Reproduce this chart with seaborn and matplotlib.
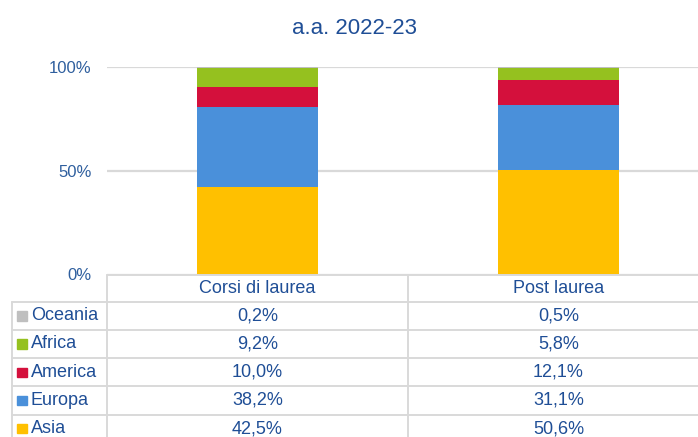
import matplotlib
matplotlib.use("Agg")
import matplotlib.pyplot as plt
import matplotlib.transforms as mtransforms
from matplotlib.patches import Rectangle
import numpy as np
import pandas as pd
import seaborn as sns

# data (percent shares)
categories = ["Corsi di laurea", "Post laurea"]
regions = ["Asia", "Europa", "America", "Africa", "Oceania"]
asia = [42.5, 50.6]
europa = [38.2, 31.1]
america = [10.0, 12.1]
africa = [9.2, 5.8]
oceania = [0.2, 0.5]
yticks = [0, 50, 100]
ytick_labels = ["0%", "50%", "100%"]
title = "a.a. 2022-23"

colors = {"Asia": "#FFC000", "Europa": "#4A90DA", "America": "#D4103C",
          "Africa": "#95C11F", "Oceania": "#BFBFBF"}
text_col = "#1F4E96"
tick_col = "#2F5F9E"
line_col = "#D9D9D9"

sns.set_style("white")
plt.rcParams["font.family"] = ["Liberation Sans", "DejaVu Sans"]

df = pd.DataFrame({"Asia": asia, "Europa": europa, "America": america,
                   "Africa": africa, "Oceania": oceania}, index=categories)
# 100% stacked: normalise each column total
share = df.div(df.sum(axis=1), axis=0) * 100
cum = share.cumsum(axis=1)

W, H = 698, 437
fig = plt.figure(figsize=(W / 100, H / 100), dpi=100)
ax_left, ax_right, ax_top, ax_bot = 107, 709, 67.3, 274.5
ax = fig.add_axes([ax_left / W, 1 - ax_bot / H, (ax_right - ax_left) / W, (ax_bot - ax_top) / H])

ax.set_axisbelow(True)
for reg in reversed(regions):
    sns.barplot(x=categories, y=cum[reg].values, color=colors[reg], width=0.4,
                saturation=1, linewidth=0, ax=ax)

ax.set_xlim(-0.5, len(categories) - 0.5)
ax.set_ylim(0, 100)
ax.set_yticks(yticks)
ax.set_yticklabels(ytick_labels, color=tick_col, fontsize=12)
ax.tick_params(axis="y", length=0, pad=11)
ax.tick_params(axis="x", bottom=False, labelbottom=False)
ax.grid(axis="y", color=line_col, linewidth=1.6)
ax.set_xlabel("")
ax.set_ylabel("")
for s in ax.spines.values():
    s.set_visible(False)

fig.text(354 / W, 1 - 28 / H, title, ha="center", va="center", fontsize=16, color=text_col)

# data table under the chart, in pixel coordinates (origin top-left)
pix = mtransforms.Affine2D().scale(1, -1).translate(0, H)
fig.canvas.draw()
col_x = [ax.transData.transform((i, 0))[0] for i in range(len(categories))]
edges_x = [ax.transData.transform((i - 0.5, 0))[0] for i in range(len(categories) + 1)]

table_left = 11.7
header_top = ax_bot
header_h = 27.2
row_h = 28.2
lw = 1.4

def hline(y, x0, x1):
    fig.add_artist(plt.Line2D([x0, x1], [y, y], color=line_col, lw=lw, transform=pix))

def vline(x, y0, y1):
    fig.add_artist(plt.Line2D([x, x], [y0, y1], color=line_col, lw=lw, transform=pix))

hline(header_top, edges_x[0], W + 5)
for k in range(len(regions) + 1):
    hline(header_top + header_h + k * row_h, table_left, W + 5)
vline(edges_x[0], header_top, H + 5)
vline(edges_x[1], header_top, H + 5)
vline(table_left, header_top + header_h, H + 5)

for i, cat in enumerate(categories):
    fig.text(col_x[i], header_top + header_h / 2, cat, ha="center", va="center",
             fontsize=13, color=text_col, transform=pix)

for k, reg in enumerate(reversed(regions)):
    yc = header_top + header_h + (k + 0.5) * row_h
    fig.add_artist(Rectangle((17.3, yc - 4.7), 9.4, 9.4, color=colors[reg], transform=pix))
    fig.text(31, yc, reg, ha="left", va="center", fontsize=13, color=text_col, transform=pix)
    for i in range(len(categories)):
        val = f"{df.loc[categories[i], reg]:.1f}".replace(".", ",") + "%"
        fig.text(col_x[i], yc, val, ha="center", va="center", fontsize=13,
                 color=text_col, transform=pix)

fig.savefig("out.png", dpi=100)
